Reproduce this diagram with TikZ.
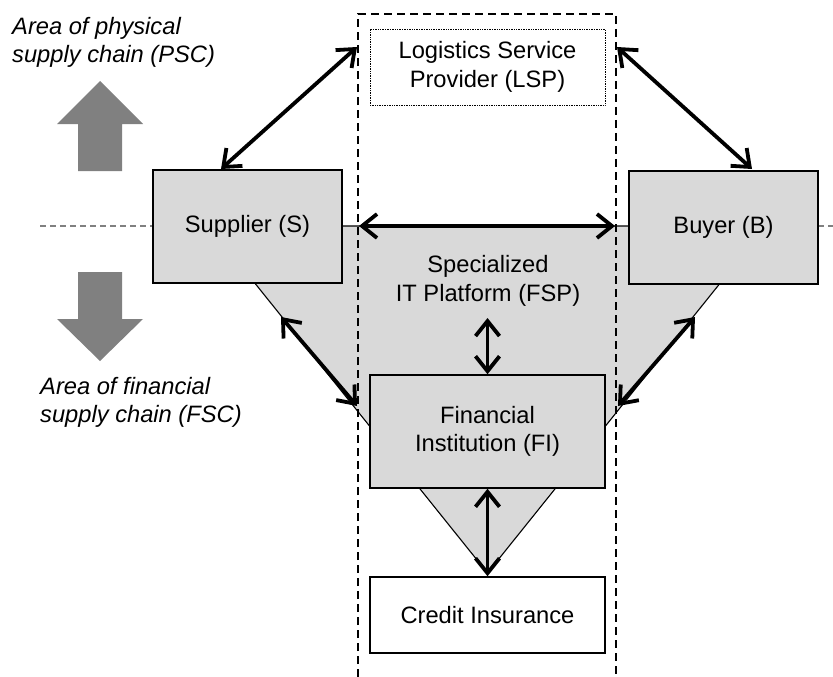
\documentclass[tikz,border=0pt]{standalone}
\usepackage{fontspec}
\setmainfont{Liberation Sans}
\usetikzlibrary{arrows.meta}

\definecolor{boxgray}{HTML}{D9D9D9}
\definecolor{darkgray}{HTML}{808080}

\tikzset{
  txt/.style={font=\fontsize{23.7}{28.5}\selectfont, align=center},
  actor/.style={txt, draw=black, line width=1.5pt, fill=boxgray,
                minimum width=189pt, minimum height=113pt, inner sep=0pt},
  plainbox/.style={txt, draw=black, line width=1.5pt, fill=white,
                minimum width=235pt, minimum height=76pt, inner sep=0pt},
  lspbox/.style={txt, draw=black, line width=0.7pt, densely dotted, fill=white,
                minimum width=235pt, minimum height=76pt, inner sep=0pt},
  flow/.style={line width=3.8pt, {Straight Barb[length=15pt,width=24pt]}-{Straight Barb[length=15pt,width=24pt]}},
  fence/.style={line width=2.8pt, dash pattern=on 8pt off 5pt},
  divider/.style={darkgray, line width=1.5pt, dash pattern=on 6pt off 4pt},
  area/.style={font=\fontsize{23.7}{28.5}\selectfont\itshape, align=left,
               inner sep=0pt},
  blockarrow/.style={fill=darkgray, draw=none},
  funnel/.style={fill=boxgray, draw=black, line width=1.1pt}
}

\begin{document}
\begin{tikzpicture}[x=1pt, y=-1pt]
  \useasboundingbox (0,0) rectangle (833,677);

  % gray funnel behind the actors
  \path[funnel] (209,226) -- (766,226) -- (487.5,573) -- cycle;

  % boundary of the platform scope
  \draw[fence] (358,677) -- (358,14) -- (616,14) -- (616,677);

  % PSC / FSC divider
  \draw[divider] (40,226) -- (153,226);
  \draw[divider] (818,226) -- (833,226);

  % actors
  \node[actor] (S) at (247.5,226.5) {Supplier (S)};
  \node[actor] (B) at (723.5,227.5) {Buyer (B)};
  \node[lspbox] (LSP) at (487.5,67) {Logistics Service\\Provider (LSP)};
  \node[actor, minimum width=235pt] (FI) at (487.5,431.5) {Financial\\Institution (FI)};
  \node[plainbox] (CI) at (487.5,615) {Credit Insurance};
  \node[txt, inner sep=0pt] (FSP) at (488,281) {Specialized\\IT Platform (FSP)};

  % area labels and block arrows
  \node[area, anchor=north west] (psc) at (12,17) {Area of physical\\supply chain (PSC)};
  \node[area, anchor=north west] (fsc) at (40,377) {Area of financial\\supply chain (FSC)};
  \path[blockarrow] (78,171) -- (78,124) -- (57,124) -- (100,81) -- (143,124)
        -- (122,124) -- (122,171) -- cycle;
  \path[blockarrow] (78,272) -- (122,272) -- (122,319) -- (143,319) -- (100,361)
        -- (57,319) -- (78,319) -- cycle;

  % connector end points
  \coordinate (sTop) at (221,169);
  \coordinate (lspL) at (357,47);
  \coordinate (bTop) at (752,169);
  \coordinate (lspR) at (617,47);
  \coordinate (midL) at (359,226);
  \coordinate (midR) at (615,226);
  \coordinate (sLow) at (281,317);
  \coordinate (fiL)  at (357,406);
  \coordinate (bLow) at (695,317);
  \coordinate (fiR)  at (618,406);
  \coordinate (fspLow) at (487.5,318);

  % flows
  \draw[flow] (sTop) -- (lspL);
  \draw[flow] (bTop) -- (lspR);
  \draw[flow] (midL) -- (midR);
  \draw[flow] (sLow) -- (fiL);
  \draw[flow] (bLow) -- (fiR);
  \draw[flow] (fspLow) -- (FI.north);
  \draw[flow] (FI.south) -- (CI.north);
\end{tikzpicture}
\end{document}
